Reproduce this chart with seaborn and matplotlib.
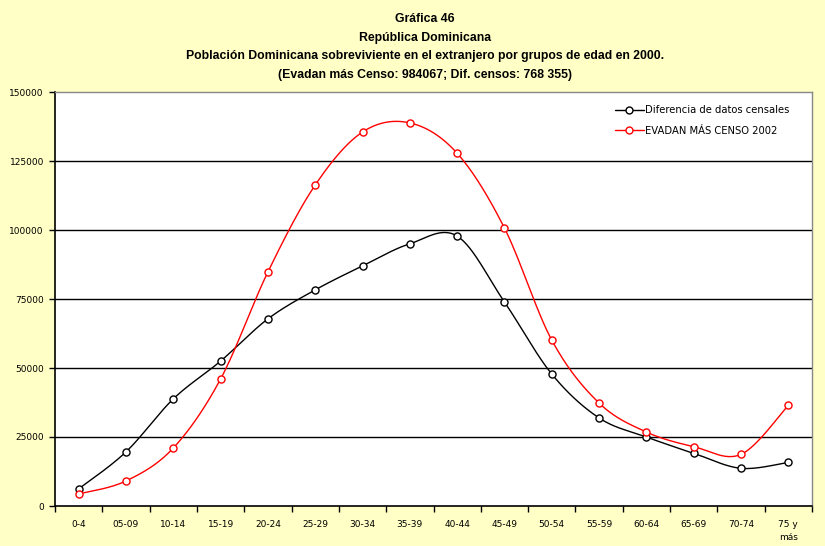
import numpy as np
import pandas as pd
import matplotlib
matplotlib.use("Agg")
import matplotlib.pyplot as plt
import seaborn as sns

grupos = ["0-4", "05-09", "10-14", "15-19", "20-24", "25-29", "30-34", "35-39",
          "40-44", "45-49", "50-54", "55-59", "60-64", "65-69", "70-74", "75 y\nmás"]
diferencia = [6200, 19600, 38800, 52500, 67800, 78300, 87000, 95000,
              97800, 73900, 47800, 31900, 25000, 19100, 13650, 15800]
evadan = [4350, 9060, 21000, 46000, 84800, 116300, 135500, 138800,
          127800, 100700, 60100, 37300, 26800, 21500, 18700, 36500]
y_ticks = [0, 25000, 50000, 75000, 100000, 125000, 150000]

series = {
    "Diferencia de datos censales": (diferencia, "black"),
    "EVADAN MÁS CENSO 2002": (evadan, "#FF0000"),
}


def smooth(xs, ys, n=30):
    """Cardinal (Catmull-Rom style) Bezier smoothing between points."""
    xs = np.asarray(xs, float)
    ys = np.asarray(ys, float)
    px = np.concatenate([[xs[0]], xs, [xs[-1]]])
    py = np.concatenate([[ys[0]], ys, [ys[-1]]])
    ox, oy = [], []
    t = np.linspace(0, 1, n, endpoint=False)
    for i in range(1, len(px) - 2):
        p0 = np.array([px[i], py[i]])
        p3 = np.array([px[i + 1], py[i + 1]])
        p1 = p0 + (np.array([px[i + 1], py[i + 1]]) - np.array([px[i - 1], py[i - 1]])) / 6
        p2 = p3 - (np.array([px[i + 2], py[i + 2]]) - np.array([px[i], py[i]])) / 6
        b = ((1 - t) ** 3)[:, None] * p0 + (3 * (1 - t) ** 2 * t)[:, None] * p1 \
            + (3 * (1 - t) * t ** 2)[:, None] * p2 + (t ** 3)[:, None] * p3
        ox.extend(b[:, 0])
        oy.extend(b[:, 1])
    ox.append(xs[-1])
    oy.append(ys[-1])
    return np.array(ox), np.array(oy)


sns.set_theme(style="white")
plt.rcParams["font.family"] = ["DejaVu Sans"]
plt.rcParams["text.color"] = "black"
plt.rcParams["xtick.color"] = "black"
plt.rcParams["ytick.color"] = "black"
plt.rcParams["xtick.labelcolor"] = "black"
plt.rcParams["ytick.labelcolor"] = "black"

bg = "#FFFFC6"
fig = plt.figure(figsize=(8.25, 5.46), dpi=100, facecolor=bg)
ax = fig.add_axes([55 / 825, 1 - 506 / 546, (812 - 55) / 825, (506 - 92) / 546])
ax.set_facecolor("white")

xpos = np.arange(len(grupos))
for name, (vals, color) in series.items():
    sx, sy = smooth(xpos, vals)
    sns.lineplot(x=sx, y=sy, ax=ax, color=color, lw=1.0, sort=False,
                 estimator=None, legend=False)
    sns.scatterplot(x=xpos, y=vals, ax=ax, marker="o", s=26,
                    facecolor="white", edgecolor=color, linewidth=1.0,
                    zorder=5, legend=False)
    ax.plot([], [], color=color, lw=1.0, marker="o", ms=5,
            mfc="white", mec=color, label=name)

ax.set_xlim(-0.5, len(grupos) - 0.5)
ax.set_ylim(0, 150000)
ax.set_yticks(y_ticks)
ax.set_yticklabels([str(v) for v in y_ticks], fontsize=6.5)
for v in y_ticks[1:-1]:
    ax.axhline(v, color="black", lw=1.0, zorder=1)

ax.set_xticks(xpos)
ax.set_xticklabels(grupos, fontsize=6.5, linespacing=1.6)
ax.set_xticks(np.arange(len(grupos) + 1) - 0.5, minor=True)
ax.tick_params(axis="x", which="major", length=0, pad=10)
ax.tick_params(axis="x", which="minor", length=4, width=1, color="black", direction="out", bottom=True)
ax.tick_params(axis="y", length=4, width=1, color="black", direction="out", left=True, pad=4)

for s in ["left", "bottom"]:
    ax.spines[s].set_color("black")
    ax.spines[s].set_linewidth(1.2)
for s in ["top", "right"]:
    ax.spines[s].set_color("#888888")
    ax.spines[s].set_linewidth(1.0)

leg = ax.legend(loc="upper right", bbox_to_anchor=(0.982, 0.99), frameon=False,
                fontsize=7.2, handlelength=2.9, handletextpad=0.1, labelspacing=1.05)

titles = ["Gráfica 46", "República Dominicana",
          "Población Dominicana sobreviviente en el extranjero por grupos de edad en 2000.",
          "(Evadan más Censo: 984067; Dif. censos: 768 355)"]
for i, t in enumerate(titles):
    fig.text(425 / 825, 1 - (19 + i * 18.7) / 546, t, ha="center", va="center",
             fontsize=8.8, fontweight="bold", family="Liberation Sans")

fig.savefig("out.png", dpi=100, facecolor=bg)
